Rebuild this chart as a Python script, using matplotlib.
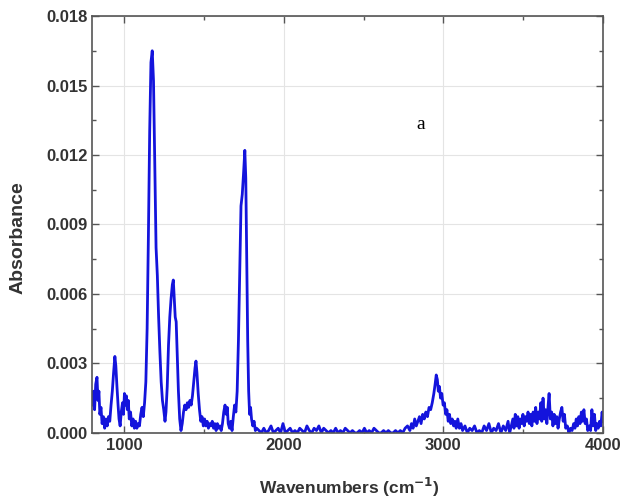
import numpy as np
import matplotlib
matplotlib.use("Agg")
import matplotlib.pyplot as plt
from matplotlib.ticker import MultipleLocator

# FTIR spectrum, values
wavenumber = [
    800, 808, 815, 822, 830, 836, 842, 848, 855, 862, 870, 878, 886, 894, 902,
    910, 918, 926, 934, 942, 948, 955, 962, 968, 975, 982, 990, 996, 1002, 1008,
    1014, 1020, 1026, 1032, 1040, 1048, 1056, 1064, 1072, 1080, 1088, 1096,
    1104, 1112, 1120, 1128, 1136, 1144, 1152, 1160, 1168, 1176, 1184, 1192,
    1200, 1208, 1216, 1224, 1232, 1240, 1248, 1256, 1262, 1270, 1278, 1286,
    1294, 1302, 1308, 1314, 1320, 1326, 1332, 1340, 1348, 1356, 1364, 1372,
    1380, 1388, 1396, 1404, 1412, 1420, 1428, 1436, 1444, 1450, 1456, 1464,
    1472, 1480, 1488, 1496, 1504, 1512, 1520, 1528, 1536, 1544, 1552, 1560,
    1568, 1576, 1584, 1592, 1600, 1608, 1616, 1624, 1632, 1640, 1646, 1652,
    1660, 1668, 1676, 1684, 1692, 1700, 1708, 1716, 1724, 1732, 1740, 1748,
    1756, 1762, 1768, 1774, 1780, 1786, 1792, 1798, 1806, 1814, 1822, 1830,
    1845, 1860, 1875, 1890, 1905, 1920, 1935, 1950, 1965, 1980, 1995, 2010,
    2025, 2040, 2055, 2070, 2085, 2100, 2115, 2130, 2145, 2160, 2175, 2190,
    2205, 2220, 2235, 2250, 2265, 2280, 2295, 2310, 2325, 2340, 2355, 2370,
    2385, 2400, 2415, 2430, 2445, 2460, 2475, 2490, 2505, 2520, 2535, 2550,
    2565, 2580, 2595, 2610, 2625, 2640, 2655, 2670, 2685, 2700, 2715, 2730,
    2745, 2760, 2775, 2790, 2800, 2810, 2820, 2830, 2840, 2850, 2860, 2870,
    2880, 2890, 2900, 2910, 2920, 2930, 2940, 2948, 2955, 2962, 2968, 2975,
    2982, 2990, 2998, 3006, 3014, 3022, 3030, 3038, 3046, 3055, 3064, 3072,
    3080, 3090, 3100, 3110, 3120, 3135, 3150, 3165, 3180, 3195, 3210, 3225,
    3240, 3255, 3270, 3285, 3300, 3315, 3330, 3345, 3360, 3375, 3390, 3405,
    3415, 3425, 3435, 3442, 3450, 3458, 3466, 3474, 3482, 3490, 3498, 3506,
    3514, 3522, 3530, 3538, 3546, 3554, 3562, 3570, 3578, 3586, 3594, 3602,
    3610, 3616, 3624, 3632, 3640, 3648, 3656, 3662, 3670, 3678, 3686, 3694,
    3702, 3710, 3718, 3726, 3734, 3742, 3750, 3758, 3766, 3776, 3786, 3796,
    3806, 3816, 3824, 3832, 3840, 3848, 3856, 3864, 3872, 3880, 3888, 3896,
    3904, 3914, 3922, 3930, 3938, 3946, 3954, 3962, 3970, 3978, 3986, 3994,
    4000,
]
absorbance = [
    0.0012, 0.0018, 0.0010, 0.0021, 0.0024, 0.0014, 0.0018, 0.0008, 0.0011,
    0.0004, 0.0007, 0.0002, 0.0006, 0.0003, 0.0007, 0.0005, 0.0012, 0.0018,
    0.0026, 0.0033, 0.0029, 0.0020, 0.0012, 0.0006, 0.0003, 0.0009, 0.0013,
    0.0008, 0.0017, 0.0012, 0.0016, 0.0010, 0.0014, 0.0006, 0.0009, 0.0003,
    0.0006, 0.0002, 0.0005, 0.0002, 0.0004, 0.0003, 0.0008, 0.0011, 0.0007,
    0.0013, 0.0022, 0.0045, 0.0085, 0.0130, 0.0160, 0.0165, 0.0152, 0.0115,
    0.0080, 0.0068, 0.0050, 0.0035, 0.0022, 0.0014, 0.0010, 0.0005, 0.0009,
    0.0020, 0.0038, 0.0050, 0.0058, 0.0064, 0.0066, 0.0058, 0.0050, 0.0048,
    0.0035, 0.0018, 0.0006, 0.0001, 0.0004, 0.0009, 0.0012, 0.0010, 0.0013,
    0.0011, 0.0014, 0.0012, 0.0016, 0.0022, 0.0028, 0.0031, 0.0026, 0.0017,
    0.0010, 0.0005, 0.0007, 0.0003, 0.0006, 0.0003, 0.0005, 0.0002, 0.0004,
    0.0003, 0.0005, 0.0002, 0.0004, 0.0001, 0.0004, 0.0002, 0.0003, 0.0001,
    0.0004, 0.0009, 0.0012, 0.0008, 0.0011, 0.0004, 0.0002, 0.0005, 0.0001,
    0.0007, 0.0012, 0.0009, 0.0018, 0.0040, 0.0070, 0.0098, 0.0103, 0.0112,
    0.0122, 0.0110, 0.0075, 0.0040, 0.0018, 0.0008, 0.0011, 0.0006, 0.0003,
    0.0005, 0.0001, 0.0002,
    0.0001, 0.0000, 0.0002, 0.0000, 0.0001, 0.0003, 0.0000, 0.0001, 0.0002,
    0.0000, 0.0004, 0.0000, 0.0001, 0.0002, 0.0000, 0.0001, 0.0000, 0.0002,
    0.0001, 0.0000, 0.0003, 0.0001, 0.0000, 0.0002, 0.0001, 0.0003, 0.0000,
    0.0002, 0.0001, 0.0000, 0.0001, 0.0000, 0.0002, 0.0000, 0.0001, 0.0000,
    0.0002, 0.0001, 0.0000, 0.0001, 0.0000, 0.0000, 0.0001, 0.0000, 0.0002,
    0.0000, 0.0001, 0.0000, 0.0002, 0.0001, 0.0000, 0.0000, 0.0001, 0.0000,
    0.0001, 0.0000, 0.0000, 0.0001, 0.0000, 0.0001, 0.0000, 0.0002, 0.0003,
    0.0001, 0.0004, 0.0002, 0.0006, 0.0003, 0.0005, 0.0007, 0.0004, 0.0008,
    0.0006, 0.0009, 0.0007, 0.0011, 0.0010, 0.0013, 0.0017, 0.0021, 0.0025,
    0.0023, 0.0018, 0.0020, 0.0015, 0.0017, 0.0012, 0.0013, 0.0008, 0.0010,
    0.0005, 0.0008, 0.0004, 0.0006, 0.0003, 0.0005, 0.0002, 0.0006, 0.0002,
    0.0004, 0.0001, 0.0003, 0.0000, 0.0002, 0.0001, 0.0003, 0.0000, 0.0001,
    0.0000, 0.0003, 0.0001, 0.0004, 0.0000, 0.0002, 0.0001, 0.0004, 0.0000,
    0.0003, 0.0001, 0.0005, 0.0000, 0.0003, 0.0006, 0.0002, 0.0008, 0.0003,
    0.0007, 0.0002, 0.0006, 0.0004, 0.0008, 0.0003, 0.0007, 0.0005, 0.0009,
    0.0004, 0.0008, 0.0003, 0.0009, 0.0005, 0.0011, 0.0004, 0.0009, 0.0006,
    0.0013, 0.0005, 0.0015, 0.0006, 0.0010, 0.0004, 0.0012, 0.0017, 0.0006,
    0.0009, 0.0003, 0.0008, 0.0004, 0.0007, 0.0002, 0.0006, 0.0009, 0.0011,
    0.0005, 0.0008, 0.0002, 0.0003, 0.0000, 0.0002, 0.0001, 0.0004, 0.0002,
    0.0006, 0.0003, 0.0007, 0.0004, 0.0009, 0.0005, 0.0010, 0.0004, 0.0006,
    0.0001, 0.0003, 0.0001, 0.0010, 0.0003, 0.0008, 0.0001, 0.0004, 0.0002,
    0.0005, 0.0003, 0.0009, 0.0005,
]

x_ticks = [1000, 2000, 3000, 4000]
y_ticks = [0.000, 0.003, 0.006, 0.009, 0.012, 0.015, 0.018]

plt.rcParams["font.family"] = ["Liberation Sans", "DejaVu Sans"]

fig = plt.figure(figsize=(6.23, 5.01), dpi=100)
ax = fig.add_axes([0.148, 0.136, 0.82, 0.832])

ax.plot(wavenumber, absorbance, color="#1414dc", lw=2.0)

ax.set_xlim(800, 4000)
ax.set_ylim(0, 0.018)
ax.set_xticks(x_ticks)
ax.set_yticks(y_ticks)
ax.set_yticklabels([f"{v:.3f}" for v in y_ticks])
ax.xaxis.set_minor_locator(MultipleLocator(500))
ax.yaxis.set_minor_locator(MultipleLocator(0.0015))
ax.grid(True, which="major", color="#e4e4e4", lw=0.8)
ax.set_axisbelow(True)

ax.tick_params(which="both", direction="in", top=True, right=True,
               color="#555555", labelsize=12)
ax.tick_params(which="major", length=5, width=1)
ax.tick_params(which="minor", length=3, width=1)
for lbl in ax.get_xticklabels() + ax.get_yticklabels():
    lbl.set_fontweight("bold")
    lbl.set_color("#333333")
for s in ax.spines.values():
    s.set_color("#555555")
    s.set_linewidth(1.2)

ax.set_xlabel("Wavenumbers (cm$^{\\mathbf{-1}}$)", fontsize=12.5,
              fontweight="bold", color="#333333")
ax.set_ylabel("Absorbance", fontsize=14, fontweight="bold", color="#333333")
ax.xaxis.set_label_coords(0.503, -0.103)
ax.yaxis.set_label_coords(-0.128, 0.468)

ax.text(2860, 0.0133, "a", family="Liberation Serif", fontsize=14,
        ha="center", va="center")

fig.savefig("out.png", dpi=100, facecolor="white")
